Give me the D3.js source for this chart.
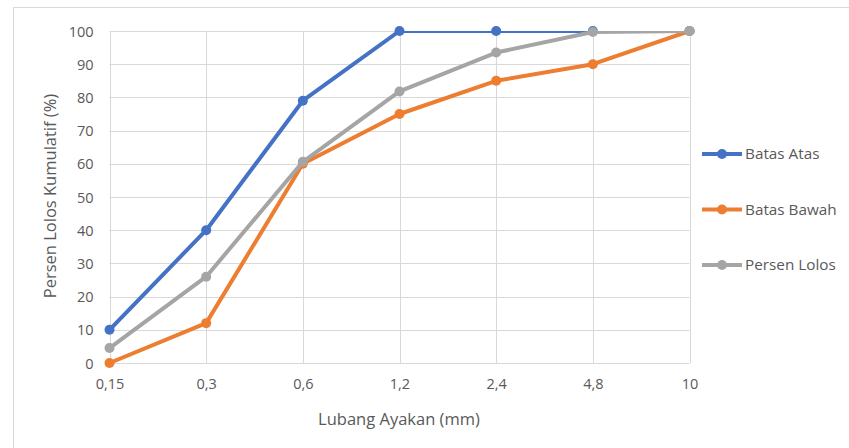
<!DOCTYPE html>
<html><head><meta charset="utf-8">
<script src="https://cdn.jsdelivr.net/npm/d3@7"></script>
<style>body{margin:0;background:#fff;}svg{display:block;}</style>
</head><body>
<svg id="c" width="849" height="448"></svg>
<script>
const categories = ["0,15","0,3","0,6","1,2","2,4","4,8","10"];
const batasAtas = [10,40,79,100,100,100,100];
const batasBawah = [0,12,60,75,85,90,100];
const persenLolos = [4.5,26,60.6,81.8,93.5,99.7,100];
const seriesNames = ["Batas Atas","Batas Bawah","Persen Lolos"];
const seriesColors = ["#4472C4","#ED7D31","#A5A5A5"];
const yTicks = [0,10,20,30,40,50,60,70,80,90,100];

const series = [batasAtas,batasBawah,persenLolos].map((v,i)=>({name:seriesNames[i],color:seriesColors[i],values:v}));
const svg = d3.select("#c");
const font = "Open Sans, sans-serif";
const textColor = "#595959";

svg.append("rect").attr("x",13.5).attr("y",7.5).attr("width",900).attr("height",500)
  .attr("fill","#fff").attr("stroke","#D9D9D9").attr("stroke-width",1);

const L=109.5, R=689.5, T=31, B=363;
const x = d3.scalePoint().domain(categories).range([L,R]);
const y = d3.scaleLinear().domain([0,100]).range([B,T]);

// gridlines
const g = svg.append("g");
g.selectAll(".hg").data(yTicks).enter().append("line")
  .attr("x1",L).attr("x2",R).attr("y1",d=>Math.round(y(d))+0.5).attr("y2",d=>Math.round(y(d))+0.5)
  .attr("stroke","#D9D9D9").attr("stroke-width",1);
g.selectAll(".vg").data(categories).enter().append("line")
  .attr("x1",d=>Math.round(x(d))+0.5).attr("x2",d=>Math.round(x(d))+0.5).attr("y1",T).attr("y2",B)
  .attr("stroke","#D9D9D9").attr("stroke-width",1);

// axes (tick labels only)
const yAxis = svg.append("g").attr("transform",`translate(${L-16},0)`)
  .call(d3.axisLeft(y).tickValues(yTicks).tickSize(0).tickPadding(0));
yAxis.select(".domain").remove();
yAxis.selectAll("text").attr("font-family",font).attr("font-size",14.5).attr("fill",textColor).attr("dy","0.35em");

const xAxis = svg.append("g").attr("transform",`translate(0,${B+16})`)
  .call(d3.axisBottom(x).tickSize(0).tickPadding(0));
xAxis.select(".domain").remove();
xAxis.selectAll("text").attr("font-family",font).attr("font-size",14.5).attr("fill",textColor).attr("dy","0.7em");

// clip
svg.append("clipPath").attr("id","clip").append("rect").attr("x",L-10).attr("y",T).attr("width",R-L+20).attr("height",B-T+10);

const line = d3.line().x((d,i)=>x(categories[i])).y(d=>y(d));
series.forEach(s=>{
  svg.append("path").datum(s.values).attr("d",line).attr("fill","none")
    .attr("stroke",s.color).attr("stroke-width",4).attr("stroke-linejoin","round")
    .attr("clip-path","url(#clip)");
  svg.append("g").selectAll("circle").data(s.values).enter().append("circle")
    .attr("cx",(d,i)=>x(categories[i])).attr("cy",d=>y(d)).attr("r",5).attr("fill",s.color);
});

// titles
svg.append("text").attr("x",399).attr("y",425).attr("text-anchor","middle")
  .attr("font-family",font).attr("font-size",16.5).attr("fill",textColor).text("Lubang Ayakan (mm)");
svg.append("text").attr("transform","translate(56,196) rotate(-90)").attr("text-anchor","middle")
  .attr("font-family",font).attr("font-size",16.5).attr("fill",textColor).text("Persen Lolos Kumulatif (%)");

// legend
const lg = svg.append("g").selectAll("g").data(series).enter().append("g")
  .attr("transform",(d,i)=>`translate(702,${154+i*55.5})`);
lg.append("line").attr("x1",0).attr("x2",40).attr("stroke",d=>d.color).attr("stroke-width",4);
lg.append("circle").attr("cx",20).attr("r",5).attr("fill",d=>d.color);
lg.append("text").attr("x",43).attr("dy","0.35em").attr("font-family",font).attr("font-size",15.3)
  .attr("fill",textColor).text(d=>d.name);
</script>
</body></html>
